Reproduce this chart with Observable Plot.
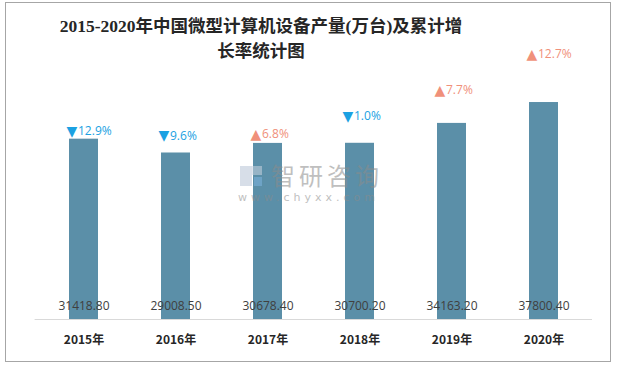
<!DOCTYPE html>
<html>
<head>
<meta charset="utf-8">
<script src="https://cdn.jsdelivr.net/npm/d3@7"></script>
<script src="https://cdn.jsdelivr.net/npm/@observablehq/plot@0.6"></script>
<style>
  html, body { margin: 0; padding: 0; background: #fff; }
  #wrap { position: relative; width: 619px; height: 367px; overflow: hidden; }
  #frame { position: absolute; left: 5px; top: 2px; width: 606px; height: 360px; border: 1px solid #a6a6a6; box-sizing: border-box; pointer-events: none; }
  #title { position: absolute; left: 0; top: 14px; width: 522px; text-align: center;
    font-family: "Liberation Serif", "Noto Sans CJK SC", serif; font-size: 17.5px; font-weight: bold;
    line-height: 25px; color: #262626; }
  #wm { position: absolute; left: 238px; top: 160px; opacity: 0.55; pointer-events: none; }
  #wm .t { position: absolute; left: 33px; top: 0; font-family: "Noto Sans CJK SC", sans-serif; font-size: 24px; color: #8c8c8c; letter-spacing: 4px; white-space: nowrap; line-height: 30px; }
  #wm .u { position: absolute; left: 0; top: 31px; font-family: "DejaVu Sans", sans-serif; font-size: 11px; color: #8c8c8c; letter-spacing: 4px; white-space: nowrap; }
  #wm .l1 { position: absolute; left: 2px; top: 6px; width: 12px; height: 20px; background: #b8c4d6; }
  #wm .l2 { position: absolute; left: 14px; top: 6px; width: 10px; height: 9px; background: #c9d3e0; }
  #wm .l3 { position: absolute; left: 16px; top: 17px; width: 8px; height: 9px; background: #7fb4e0; }
</style>
</head>
<body>
<div id="wrap">
  <div id="chart"></div>
  <div id="wm"><div class="l1"></div><div class="l2"></div><div class="l3"></div><div class="t">智研咨询</div><div class="u">www.chyxx.com</div></div>
  <div id="title">2015-2020年中国微型计算机设备产量(万台)及累计增<br>长率统计图</div>
  <div id="frame"></div>
</div>
<script>
// ---- data ----
const years = ["2015年", "2016年", "2017年", "2018年", "2019年", "2020年"];
const output = [31418.80, 29008.50, 30678.40, 30700.20, 34163.20, 37800.40];
const growth = [-12.9, -9.6, 6.8, -1.0, 7.7, 12.7];

// ---- layout (label lift above each bar, px) ----
const labelLift = [8, 17, 9, 27, 33, 48];
const downColor = "#1ba1e2";
const upColor = "#f0907a";

const rows = years.map((y, i) => ({year: y, value: output[i], growth: growth[i], i}));

const growthMarks = rows.flatMap(d => {
  const c = d.growth < 0 ? downColor : upColor;
  return [
    Plot.text([d], {x: "year", y: "value", text: d => d.growth < 0 ? "▼" : "▲",
      dx: -12, dy: -labelLift[d.i], fill: c, fontSize: 14,
      fontFamily: "DejaVu Sans", textAnchor: "middle"}),
    Plot.text([d], {x: "year", y: "value", text: d => Math.abs(d.growth).toFixed(1) + "%",
      dx: -6, dy: -labelLift[d.i], fill: c, fontSize: 12,
      fontFamily: "Open Sans", textAnchor: "start"})
  ];
});

const chart = Plot.plot({
  width: 619,
  height: 367,
  marginLeft: 34.6,
  marginRight: 27,
  marginTop: 89.4,
  marginBottom: 48,
  style: {background: "transparent", fontFamily: "Open Sans"},
  x: {domain: years, paddingInner: 0.688, paddingOuter: 0.344, label: null},
  y: {domain: [0, 40000], axis: null},
  marks: [
    Plot.barY(rows, {x: "year", y: "value", fill: "#5b8fa8"}),
    Plot.ruleY([0], {stroke: "#d9d9d9", strokeWidth: 1}),
    Plot.text(rows, {x: "year", y: 0, text: d => d.value.toFixed(2), dy: -13,
      fill: "#404040", fontSize: 12, fontFamily: "Open Sans"}),
    ...growthMarks,
    Plot.axisX({tickSize: 0, tickPadding: 16, fontSize: 12, fontWeight: "bold",
      fill: "#262626", fontFamily: "Noto Sans CJK SC", label: null})
  ]
});
document.getElementById("chart").appendChild(chart);
</script>
</body>
</html>
